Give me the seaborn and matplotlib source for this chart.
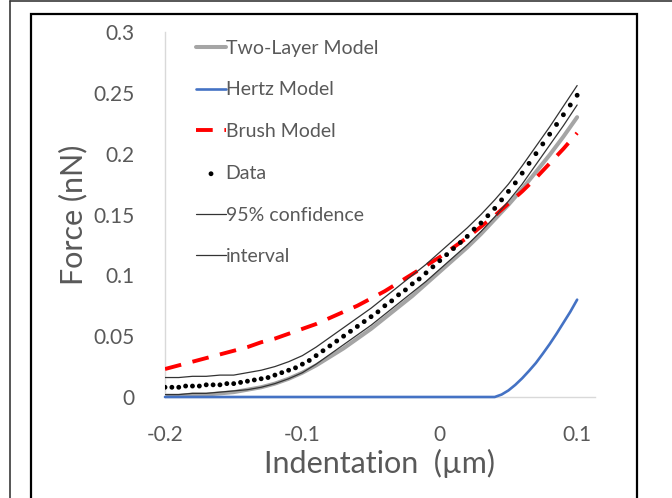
import matplotlib
matplotlib.use("Agg")
import matplotlib.pyplot as plt
from matplotlib.lines import Line2D
from matplotlib.patches import Rectangle
import seaborn as sns
import pandas as pd

# indentation (um) for the measured points, 0.005 steps
data_x = [-0.200, -0.195, -0.190, -0.185, -0.180, -0.175, -0.170, -0.165, -0.160, -0.155,
          -0.150, -0.145, -0.140, -0.135, -0.130, -0.125, -0.120, -0.115, -0.110, -0.105,
          -0.100, -0.095, -0.090, -0.085, -0.080, -0.075, -0.070, -0.065, -0.060, -0.055,
          -0.050, -0.045, -0.040, -0.035, -0.030, -0.025, -0.020, -0.015, -0.010, -0.005,
          0.000, 0.005, 0.010, 0.015, 0.020, 0.025, 0.030, 0.035, 0.040, 0.045,
          0.050, 0.055, 0.060, 0.065, 0.070, 0.075, 0.080, 0.085, 0.090, 0.095, 0.100]
data_y = [0.008, 0.008, 0.008, 0.009, 0.009, 0.009, 0.010, 0.010, 0.010, 0.011,
          0.011, 0.012, 0.013, 0.014, 0.015, 0.016, 0.018, 0.020, 0.022, 0.024,
          0.027, 0.030, 0.034, 0.038, 0.042, 0.046, 0.050, 0.054, 0.058, 0.062,
          0.066, 0.070, 0.075, 0.079, 0.084, 0.088, 0.093, 0.097, 0.102, 0.107,
          0.112, 0.117, 0.122, 0.127, 0.132, 0.138, 0.143, 0.149, 0.155, 0.162,
          0.169, 0.176, 0.184, 0.192, 0.200, 0.208, 0.216, 0.224, 0.232, 0.240, 0.248]

# model curves, 0.01 steps
model_x = [-0.20, -0.19, -0.18, -0.17, -0.16, -0.15, -0.14, -0.13, -0.12, -0.11,
           -0.10, -0.09, -0.08, -0.07, -0.06, -0.05, -0.04, -0.03, -0.02, -0.01,
           0.00, 0.01, 0.02, 0.03, 0.04, 0.05, 0.06, 0.07, 0.08, 0.09, 0.10]
two_layer = [0.001, 0.001, 0.002, 0.002, 0.003, 0.004, 0.006, 0.008, 0.011, 0.015,
             0.020, 0.026, 0.033, 0.040, 0.048, 0.056, 0.065, 0.074, 0.083, 0.093,
             0.103, 0.113, 0.123, 0.134, 0.146, 0.158, 0.171, 0.185, 0.199, 0.214, 0.230]
brush = [0.023, 0.026, 0.029, 0.032, 0.035, 0.038, 0.041, 0.045, 0.048, 0.052,
         0.056, 0.060, 0.065, 0.070, 0.075, 0.081, 0.087, 0.094, 0.101, 0.108,
         0.115, 0.123, 0.131, 0.140, 0.149, 0.159, 0.169, 0.180, 0.192, 0.204, 0.217]
ci_upper = [0.016, 0.016, 0.017, 0.017, 0.018, 0.018, 0.020, 0.022, 0.025, 0.029,
            0.034, 0.041, 0.049, 0.057, 0.065, 0.073, 0.082, 0.091, 0.100, 0.109,
            0.119, 0.129, 0.139, 0.150, 0.162, 0.175, 0.190, 0.206, 0.222, 0.239, 0.256]
ci_lower = [0.002, 0.002, 0.003, 0.003, 0.004, 0.005, 0.006, 0.008, 0.011, 0.015,
            0.020, 0.027, 0.035, 0.043, 0.051, 0.059, 0.068, 0.077, 0.086, 0.095,
            0.105, 0.115, 0.125, 0.136, 0.148, 0.161, 0.175, 0.191, 0.207, 0.223, 0.240]

hertz_x = [-0.20, -0.10, 0.00, 0.040, 0.045, 0.050, 0.055, 0.060, 0.065, 0.070,
           0.075, 0.080, 0.085, 0.090, 0.095, 0.100]
hertz_y = [0.0, 0.0, 0.0, 0.0, 0.002, 0.0054, 0.010, 0.0154, 0.0215, 0.028,
           0.0356, 0.0435, 0.052, 0.061, 0.070, 0.080]

x_ticks = [-0.2, -0.1, 0, 0.1]
x_labels = ['-0.2', '-0.1', '0', '0.1']
y_ticks = [0, 0.05, 0.1, 0.15, 0.2, 0.25, 0.3]
y_labels = ['0', '0.05', '0.1', '0.15', '0.2', '0.25', '0.3']

sns.set_style("white")
plt.rcParams['font.family'] = ['Lato', 'DejaVu Sans']
text_grey = '#595959'

fig = plt.figure(figsize=(6.72, 4.98), dpi=100)
ax = fig.add_axes([165 / 672, 1 - 397 / 498, 430 / 672, 365 / 498])

models = pd.DataFrame({'x': model_x, 'two': two_layer, 'brush': brush,
                       'up': ci_upper, 'low': ci_lower})
hertz = pd.DataFrame({'x': hertz_x, 'y': hertz_y})
points = pd.DataFrame({'x': data_x, 'y': data_y})

sns.lineplot(data=models, x='x', y='two', ax=ax, color='#A5A5A5',
             linewidth=2.9, label='Two-Layer Model', zorder=2)
sns.lineplot(data=hertz, x='x', y='y', ax=ax, color='#4472C4',
             linewidth=1.9, label='Hertz Model', clip_on=False, zorder=3)
sns.lineplot(data=models, x='x', y='brush', ax=ax, color='#FF0000',
             linewidth=2.8, linestyle=(0, (4.3, 3)), label='Brush Model', zorder=4)
sns.scatterplot(data=points, x='x', y='y', ax=ax, color='black', s=12,
                edgecolor='none', label='Data', zorder=5)
sns.lineplot(data=models, x='x', y='up', ax=ax, color='#333333',
             linewidth=0.9, label='95% confidence', zorder=4)
sns.lineplot(data=models, x='x', y='low', ax=ax, color='#333333',
             linewidth=0.9, label='interval', zorder=4)

ax.set_xlim(-0.2, 0.113)
ax.set_ylim(0, 0.3)
ax.set_xticks(x_ticks)
ax.set_xticklabels(x_labels)
ax.set_yticks(y_ticks)
ax.set_yticklabels(y_labels)
ax.tick_params(axis='both', length=0, labelsize=15, labelcolor=text_grey)
ax.tick_params(axis='x', pad=20)
ax.tick_params(axis='y', pad=22)
ax.set_xlabel('Indentation  (µm)', fontsize=22, color=text_grey, labelpad=3)
ax.set_ylabel('Force (nN)', fontsize=22, color=text_grey, labelpad=4)

for side in ['top', 'right']:
    ax.spines[side].set_visible(False)
for side in ['left', 'bottom']:
    ax.spines[side].set_color('#D9D9D9')
    ax.spines[side].set_linewidth(1.0)

leg = ax.legend(loc='upper left', bbox_to_anchor=(0.055, 1.0), frameon=False,
                fontsize=14, handlelength=1.5, handletextpad=0.0,
                labelspacing=1.27, borderaxespad=0.0)
for t in leg.get_texts():
    t.set_color(text_grey)

# outer frame lines of the original screenshot
fig.add_artist(Line2D([10 / 672, 10 / 672], [0, 1 - 1 / 498],
                      transform=fig.transFigure, color='#3a3a3a', lw=1.2))
fig.add_artist(Line2D([10 / 672, 1], [1 - 1 / 498, 1 - 1 / 498],
                      transform=fig.transFigure, color='#3a3a3a', lw=1.2))
fig.add_artist(Rectangle((31 / 672, -0.05), (637 - 31) / 672, 1.05 - 14 / 498,
                         transform=fig.transFigure, fill=False,
                         edgecolor='black', lw=1.6))

fig.savefig('out.png', dpi=100)
